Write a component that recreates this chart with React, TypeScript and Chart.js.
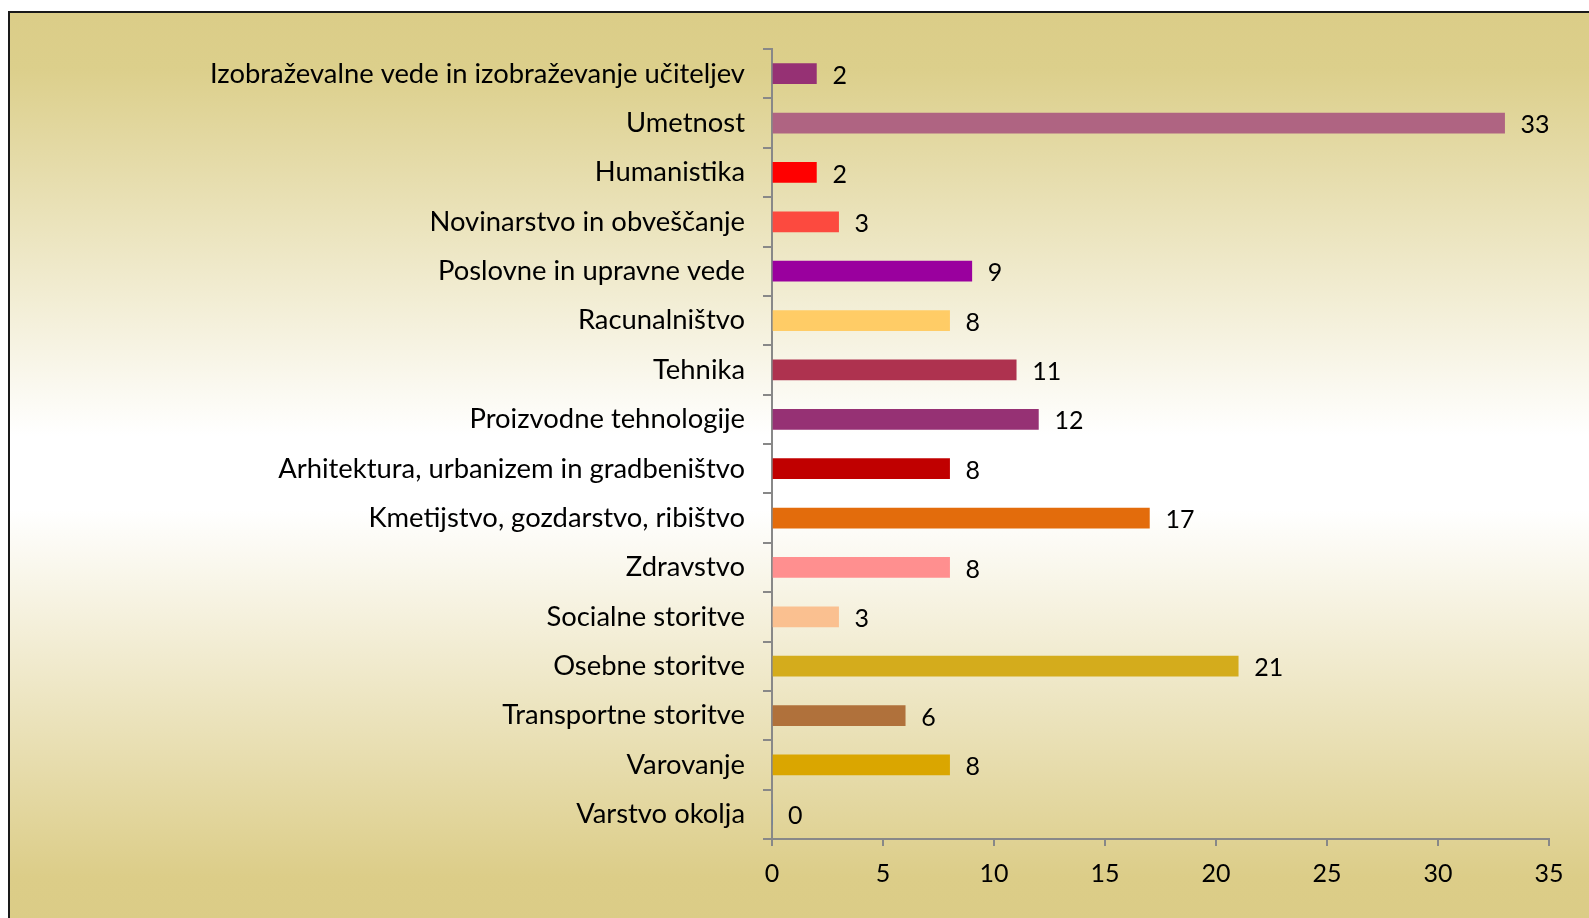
import React, { useEffect, useRef } from "react";
import { Chart, registerables } from "chart.js";

Chart.register(...registerables);

const categories: string[] = [
  "Izobraževalne vede in izobraževanje učiteljev",
  "Umetnost",
  "Humanistika",
  "Novinarstvo in obveščanje",
  "Poslovne in upravne vede",
  "Racunalništvo",
  "Tehnika",
  "Proizvodne tehnologije",
  "Arhitektura, urbanizem in gradbeništvo",
  "Kmetijstvo, gozdarstvo, ribištvo",
  "Zdravstvo",
  "Socialne storitve",
  "Osebne storitve",
  "Transportne storitve",
  "Varovanje",
  "Varstvo okolja",
];

const values: number[] = [2, 33, 2, 3, 9, 8, 11, 12, 8, 17, 8, 3, 21, 6, 8, 0];

const barColors: string[] = [
  "#963174",
  "#AF6482",
  "#FF0000",
  "#FC4A3F",
  "#9A009E",
  "#FFCC66",
  "#AE324F",
  "#963174",
  "#C00000",
  "#E36C0C",
  "#FF8F8F",
  "#FAC090",
  "#D4AC1C",
  "#B0713B",
  "#DAA600",
  "#4F81BD",
];

const xMin = 0;
const xMax = 35;
const xStep = 5;

const FONT = "Lato";
const FONT_SIZE = 25;
const LABEL_FONT_SIZE = 27.4;

export default function App() {
  const ref = useRef<HTMLCanvasElement>(null);

  useEffect(() => {
    if (!ref.current) return;
    const valueLabels = {
      id: "valueLabels",
      afterDatasetsDraw(chart: any) {
        const ctx = chart.ctx;
        const meta = chart.getDatasetMeta(0);
        ctx.save();
        ctx.font = `${FONT_SIZE}px ${FONT}`;
        ctx.fillStyle = "#000";
        ctx.textAlign = "left";
        ctx.textBaseline = "middle";
        meta.data.forEach((el: any, i: number) => {
          ctx.fillText(String(values[i]), el.x + 16, el.y + 2);
        });
        ctx.restore();
      },
    };

    const chart = new Chart(ref.current, {
      type: "bar",
      data: {
        labels: categories,
        datasets: [
          {
            data: values,
            backgroundColor: barColors,
            barThickness: 20,
          },
        ],
      },
      options: {
        indexAxis: "y",
        responsive: false,
        animation: false,
        layout: { padding: { top: 36, right: 40, bottom: 0, left: 0 } },
        plugins: {
          legend: { display: false },
          tooltip: { enabled: false },
        },
        scales: {
          x: {
            min: xMin,
            max: xMax,
            ticks: {
              stepSize: xStep,
              color: "#000",
              font: { family: FONT, size: FONT_SIZE },
              padding: 13,
            },
            grid: {
              drawOnChartArea: false,
              drawTicks: true,
              tickLength: 7,
              color: "#888888",
              lineWidth: 2,
            },
            border: { color: "#888888", width: 2 },
            afterFit(scale: any) {
              scale.height = 79;
            },
          },
          y: {
            ticks: {
              color: "#000",
              font: { family: FONT, size: LABEL_FONT_SIZE },
              padding: 18,
            },
            grid: {
              drawOnChartArea: false,
              drawTicks: true,
              tickLength: 9,
              color: "#888888",
              lineWidth: 2,
              offset: true,
            },
            border: { color: "#888888", width: 2 },
            afterFit(scale: any) {
              scale.width = 762;
            },
          },
        },
      },
      plugins: [valueLabels],
    } as any);
    return () => chart.destroy();
  }, []);

  return (
    <div
      style={{
        position: "fixed",
        left: 8,
        top: 11,
        width: 1640,
        height: 920,
        border: "2px solid #1a1a1a",
        background:
          "linear-gradient(to bottom, #DBCD88 0%, #DCCF8B 6%, #FFFFFF 46%, #FFFFFF 54%, #DCCD88 94%, #DBCC86 100%)",
      }}
    >
      <canvas ref={ref} width={1579} height={905} style={{ display: "block" }} />
    </div>
  );
}
